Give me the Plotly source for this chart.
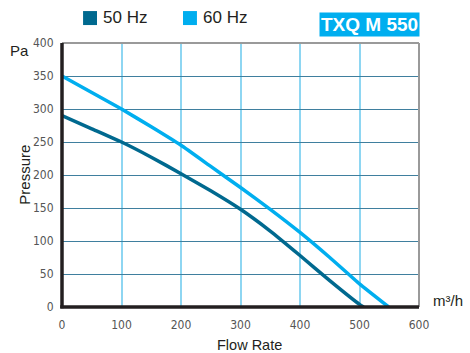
import plotly.graph_objects as go

# fan curves
flow_50 = [0, 50, 100, 150, 200, 250, 300, 350, 400, 450, 500, 507]
pres_50 = [290, 270, 250, 227, 202, 176, 148, 115, 78, 40, 4, 0]
flow_60 = [0, 50, 100, 150, 200, 250, 300, 350, 400, 450, 500, 549]
pres_60 = [350, 325, 300, 273, 245, 213, 181, 148, 113, 75, 35, 0]

x_ticks = [0, 100, 200, 300, 400, 500, 600]
y_ticks = [0, 50, 100, 150, 200, 250, 300, 350, 400]

c50 = '#00698f'
c60 = '#00aeef'
tick_font = dict(family='Liberation Sans Narrow, DejaVu Sans Condensed, Roboto Condensed, sans-serif',
                 size=12, color='#555555')
lab_font = dict(family='Liberation Sans, Arial, sans-serif', size=15, color='#231f20')

fig = go.Figure()
fig.add_trace(go.Scatter(x=flow_50, y=pres_50, mode='lines', name='50 Hz',
                         line=dict(color=c50, width=3.5, shape='spline', smoothing=0.4),
                         showlegend=False))
fig.add_trace(go.Scatter(x=flow_60, y=pres_60, mode='lines', name='60 Hz',
                         line=dict(color=c60, width=3.5, shape='spline', smoothing=0.4),
                         showlegend=False))

fig.update_xaxes(range=[0, 600], tickvals=x_ticks, tickfont=tick_font,
                 showgrid=True, gridcolor='#8ed6f2', gridwidth=1.5,
                 zeroline=False, showline=False, ticks='outside', ticklen=7, tickcolor='rgba(0,0,0,0)')
fig.update_yaxes(range=[0, 400], tickvals=y_ticks, tickfont=tick_font,
                 showgrid=True, gridcolor='#3f7f9e', gridwidth=1,
                 zeroline=False, showline=False, ticks='outside', ticklen=5, tickcolor='rgba(0,0,0,0)')

shapes = [
    # gray frame top/right
    dict(type='line', xref='paper', yref='paper', x0=0, x1=1, y0=1, y1=1,
         line=dict(color='#9a9a9a', width=2)),
    dict(type='line', xref='paper', yref='paper', x0=1, x1=1, y0=0, y1=1,
         line=dict(color='#9a9a9a', width=2)),
    # thick black axes
    dict(type='line', xref='paper', yref='paper', x0=0, x1=0, y0=-0.005, y1=1,
         line=dict(color='#231f20', width=3.5)),
    dict(type='line', xref='paper', yref='paper', x0=-0.005, x1=1, y0=0, y1=0,
         line=dict(color='#231f20', width=3.5)),
    # legend squares
    dict(type='rect', xref='paper', yref='paper', x0=0.059, x1=0.098, y0=1.068, y1=1.121,
         fillcolor=c50, line=dict(width=0)),
    dict(type='rect', xref='paper', yref='paper', x0=0.339, x1=0.378, y0=1.068, y1=1.121,
         fillcolor=c60, line=dict(width=0)),
]

annotations = [
    dict(text='50 Hz', xref='paper', yref='paper', x=0.108, y=1.095, xanchor='left',
         yanchor='middle', showarrow=False, font=dict(family='Liberation Sans, Arial', size=17, color='#231f20')),
    dict(text='60 Hz', xref='paper', yref='paper', x=0.388, y=1.095, xanchor='left',
         yanchor='middle', showarrow=False, font=dict(family='Liberation Sans, Arial', size=17, color='#231f20')),
    dict(text='<b>TXQ M 550</b>', xref='paper', yref='paper', x=1.004, y=1.023, xanchor='right',
         yanchor='bottom', showarrow=False, bgcolor=c60, borderpad=1,
         font=dict(family='Liberation Sans, Arial', size=19, color='white')),
    dict(text='Pa', xref='paper', yref='paper', x=-0.088, y=1.01, xanchor='right', yanchor='top',
         showarrow=False, font=lab_font),
    dict(text='Pressure', xref='paper', yref='paper', x=-0.078, y=0.5, xanchor='right', yanchor='middle',
         textangle=-90, showarrow=False, font=lab_font),
    dict(text='Flow Rate', xref='paper', yref='paper', x=0.525, y=-0.105, xanchor='center', yanchor='top',
         showarrow=False, font=dict(family='Liberation Sans, Arial', size=14.5, color='#231f20')),
    dict(text='m³/h', xref='paper', yref='paper', x=1.035, y=0.025, xanchor='left', yanchor='middle',
         showarrow=False, font=lab_font),
]

fig.update_layout(
    width=470, height=353,
    margin=dict(l=62, r=51, t=43, b=46),
    plot_bgcolor='white', paper_bgcolor='white',
    shapes=shapes, annotations=annotations,
    showlegend=False,
)

fig.write_html("out.html", config={'displayModeBar': False},
               post_script="document.body.style.margin='0';")
